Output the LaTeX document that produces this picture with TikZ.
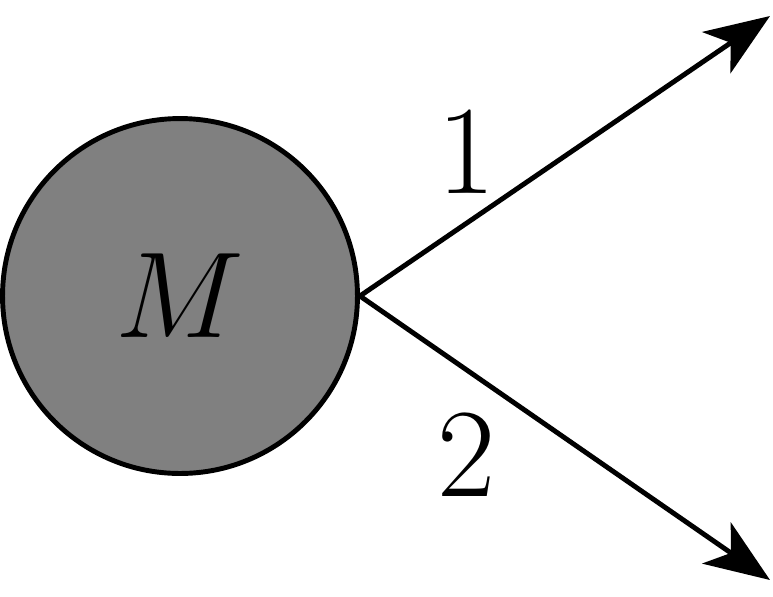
\documentclass[tikz,border=0pt]{standalone}
\usepackage{tikz}
\usetikzlibrary{arrows.meta,positioning}

\begin{document}
\begin{tikzpicture}[x=0.02cm,y=-0.02cm,line width=2.8pt,
	>={Stealth[length=1.3cm,width=1.0cm,inset=0.35cm]},
	every node/.style={font=\fontsize{72}{80}\selectfont}]
\useasboundingbox (0,0) rectangle (773,596);

\node[circle,draw,fill=black!50,minimum size=7.1cm,inner sep=0pt] (M) at (180,296) {\scalebox{2.8}{$M$}};
\coordinate (T1) at (770,16);
\coordinate (T2) at (770,580);

\draw[->] (M.east) -- (T1);
\draw[->] (M.east) -- (T2);

\node (L1) at (467,152) {1};
\node (L2) at (467,455) {2};
\end{tikzpicture}
\end{document}
